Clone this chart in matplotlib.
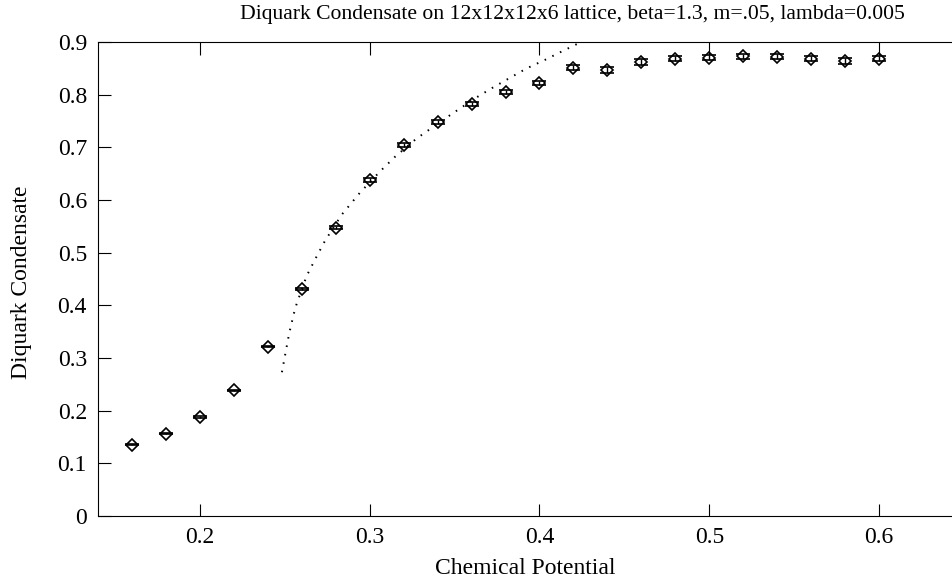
import matplotlib
matplotlib.use("Agg")
import matplotlib.pyplot as plt

# measured condensate vs chemical potential
mu = [0.16, 0.18, 0.20, 0.22, 0.24, 0.26, 0.28, 0.30, 0.32, 0.34, 0.36, 0.38,
      0.40, 0.42, 0.44, 0.46, 0.48, 0.50, 0.52, 0.54, 0.56, 0.58, 0.60]
cond = [0.135, 0.156, 0.188, 0.239, 0.321, 0.431, 0.547, 0.638, 0.704, 0.748,
        0.782, 0.805, 0.822, 0.851, 0.847, 0.862, 0.868, 0.870, 0.873, 0.872,
        0.868, 0.864, 0.868]
err = [0.001, 0.001, 0.001, 0.001, 0.001, 0.002, 0.003, 0.004, 0.004, 0.004,
       0.004, 0.004, 0.004, 0.005, 0.005, 0.005, 0.005, 0.005, 0.005, 0.005,
       0.005, 0.005, 0.005]

# fitted curve (dotted)
fit_mu = [0.2483, 0.2505, 0.2526, 0.2554, 0.2570, 0.2629, 0.2683, 0.2736, 0.2835,
          0.2943, 0.3060, 0.3149, 0.3277, 0.3473, 0.3620, 0.3728, 0.3826, 0.3925,
          0.4032, 0.4131, 0.4239, 0.4300]
fit_cond = [0.273, 0.311, 0.347, 0.385, 0.403, 0.456, 0.490, 0.522, 0.572,
            0.614, 0.654, 0.682, 0.717, 0.761, 0.793, 0.814, 0.832, 0.850,
            0.866, 0.882, 0.899, 0.908]

xticks = [0.2, 0.3, 0.4, 0.5, 0.6]
yticks = [0, 0.1, 0.2, 0.3, 0.4, 0.5, 0.6, 0.7, 0.8, 0.9]

plt.rcParams['font.family'] = ['Liberation Serif', 'DejaVu Serif']
fs = 17

W, H = 953, 581
fig = plt.figure(figsize=(W / 100, H / 100), dpi=100)
ax = fig.add_axes([98 / W, 1 - 516 / H, (964 - 98) / W, (516 - 42) / H])

ax.plot(fit_mu, fit_cond, color='black', lw=1.4, linestyle=(0, (0.8, 3.6)))
ax.errorbar(mu, cond, yerr=err, fmt='D', ms=6.5, mfc='none', mec='black',
            mew=1.2, ecolor='black', elinewidth=1.0, capsize=4.7, capthick=1.0)

ax.set_xlim(0.14, 0.65)
ax.set_ylim(0, 0.9)
ax.set_xticks(xticks)
ax.set_xticklabels([str(t) for t in xticks])
ax.set_yticks(yticks)
ax.set_yticklabels(['0'] + [str(t) for t in yticks[1:]])
ax.tick_params(direction='in', length=9, width=0.8, top=True, right=True,
               labelsize=fs, pad=8)
for s in ax.spines.values():
    s.set_linewidth(0.8)

fig.text(572 / W, 1 - 14 / H, 'Diquark Condensate on 12x12x12x6 lattice, beta=1.3, m=.05, lambda=0.005',
         ha='center', va='center', fontsize=15.6)
fig.text(525 / W, 1 - 568 / H, 'Chemical Potential', ha='center', va='center', fontsize=fs)
fig.text(22 / W, 1 - 282 / H, 'Diquark Condensate', ha='center', va='center',
         rotation=90, fontsize=fs)

fig.savefig('out.png', dpi=100)
